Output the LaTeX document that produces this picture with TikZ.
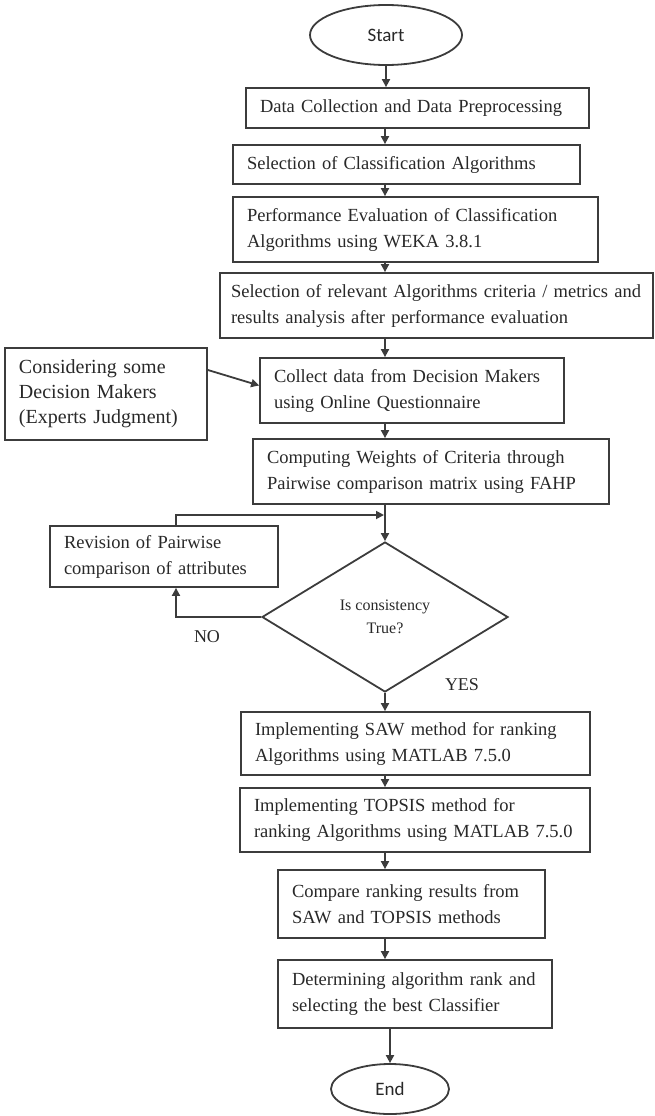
\documentclass[tikz,border=0pt]{standalone}
\usepackage{fontspec}
\setmainfont{Liberation Serif}
\newfontfamily\carlito{Carlito}
\usetikzlibrary{shapes.geometric,arrows.meta}
\definecolor{ln}{RGB}{60,60,60}
\definecolor{tx}{RGB}{40,40,40}
\begin{document}
\begin{tikzpicture}[x=1pt,y=-1pt,
  box/.style={draw=ln, line width=1.8pt, rectangle, align=left, inner xsep=14pt, inner ysep=0pt,
              text=tx, font=\fontsize{18.5}{26}\selectfont, anchor=center},
  term/.style={draw=ln, line width=1.8pt, ellipse, inner sep=0pt, text=tx,
               font=\carlito\fontsize{19}{22}\selectfont},
  dec/.style={draw=ln, line width=1.8pt, diamond, inner sep=0pt, align=center, text=tx,
              font=\fontsize{16}{23}\selectfont},
  lbl/.style={text=tx, font=\fontsize{18}{20}\selectfont, inner sep=0pt},
  arr/.style={draw=ln, line width=1.8pt, -{Triangle[length=8pt,width=8pt]}},
  ]
\useasboundingbox (0,0) rectangle (655,1116);

\node[term, minimum width=152pt, minimum height=60pt] (start) at (386,35) {Start};
\node[box, minimum width=343pt, minimum height=40pt, text width=315pt] (d1) at (417.5,108)
  {Data Collection and Data Preprocessing};
\node[box, minimum width=347pt, minimum height=39pt, text width=319pt] (d2) at (406.5,164.5)
  {Selection of Classification Algorithms};
\node[box, minimum width=365pt, minimum height=65pt, text width=337pt] (d3) at (415.5,229.5)
  {Performance Evaluation of Classification\\Algorithms using WEKA 3.8.1};
\node[box, minimum width=433pt, minimum height=65pt, inner xsep=11pt, text width=411pt] (d4) at (436.5,305.5)
  {Selection of relevant Algorithms criteria / metrics and\\results analysis after performance evaluation};
\node[box, minimum width=202pt, minimum height=92pt, text width=174pt, font=\fontsize{20}{25}\selectfont] (c1) at (106,394)
  {Considering some\\Decision Makers\\(Experts Judgment)};
\node[box, minimum width=304pt, minimum height=65pt, text width=276pt] (d5) at (412,390.5)
  {Collect data from Decision Makers\\using Online Questionnaire};
\node[box, minimum width=356pt, minimum height=65pt, text width=328pt] (d6) at (431,471.5)
  {Computing Weights of Criteria through\\Pairwise comparison matrix using FAHP};
\node[box, minimum width=228pt, minimum height=61pt, text width=200pt] (r) at (164,556.5)
  {Revision of Pairwise\\comparison of attributes};
\node[dec, minimum width=246pt, minimum height=150pt, aspect=1.64] (dia) at (385,617)
  {Is consistency\\True?};
\node[box, minimum width=349pt, minimum height=63pt, text width=321pt] (d7) at (415.5,743.5)
  {Implementing SAW method for ranking\\Algorithms using MATLAB 7.5.0};
\node[box, minimum width=350pt, minimum height=64pt, text width=322pt] (d8) at (415,820)
  {Implementing TOPSIS method for\\ranking Algorithms using MATLAB 7.5.0};
\node[box, minimum width=267pt, minimum height=68pt, text width=239pt] (d9) at (411.5,904)
  {Compare ranking results from\\SAW and TOPSIS methods};
\node[box, minimum width=274pt, minimum height=68pt, text width=246pt] (d10) at (415,994)
  {Determining algorithm rank and\\selecting the best Classifier};
\node[term, minimum width=118pt, minimum height=50pt] (end) at (390,1089) {End};

\node[lbl] (no) at (207,637) {NO};
\node[lbl] (yes) at (462,685) {YES};

\coordinate (ax) at (385,0);
\coordinate (lx) at (176,0);
\coordinate (fb) at (384,515);

\draw[arr] (start.south) -- (start.south |- d1.north);
\draw[arr] (d1.south -| ax) -- (d2.north -| ax);
\draw[arr] (d2.south -| ax) -- (d3.north -| ax);
\draw[arr] (d3.south -| ax) -- (d4.north -| ax);
\draw[arr] (d4.south -| ax) -- (d5.north -| ax);
\draw[arr] (d5.south -| ax) -- (d6.north -| ax);
\draw[arr] ([yshift=24pt]c1.east) -- ([yshift=5pt]d5.west);
\draw[arr] (d6.south -| ax) -- (dia.north);
\draw[arr] (r.north -| lx) |- (fb);
\draw[arr] (dia.west) -| (r.south -| lx);
\draw[arr] (dia.south) -- (d7.north -| dia.south);
\draw[arr] (d7.south -| ax) -- (d8.north -| ax);
\draw[arr] (d8.south -| ax) -- (d9.north -| ax);
\draw[arr] (d9.south -| ax) -- (d10.north -| ax);
\draw[arr] (d10.south -| end.north) -- (end.north);
\end{tikzpicture}
\end{document}
